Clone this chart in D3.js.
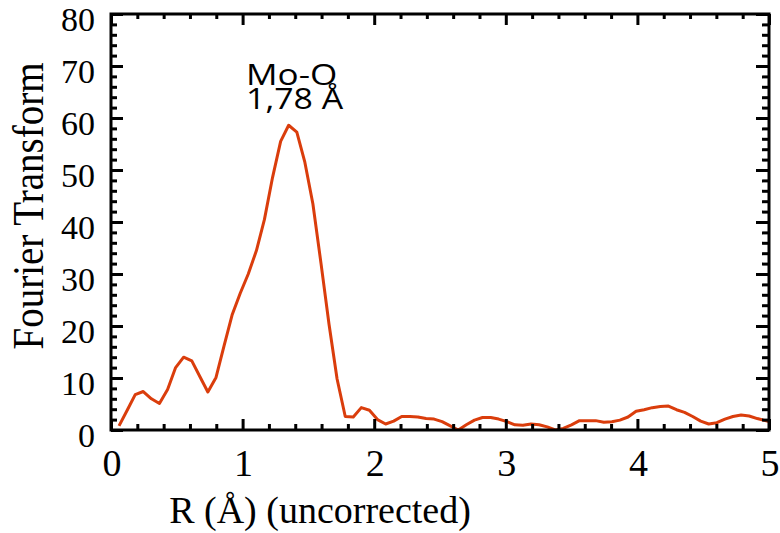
<!DOCTYPE html>
<html>
<head>
<meta charset="utf-8">
<script src="https://cdn.jsdelivr.net/npm/d3@7"></script>
<style>
  html, body { margin: 0; padding: 0; background: #fff; }
  svg { display: block; }
</style>
</head>
<body>
<svg id="chart" width="780" height="533"></svg>
<script>
// Fourier-transform magnitude of the Mo K-edge EXAFS, R space (uncorrected)
const rValues = [
  0.061, 0.123, 0.184, 0.245, 0.307, 0.368, 0.430, 0.491, 0.552, 0.614,
  0.675, 0.736, 0.798, 0.859, 0.920, 0.982, 1.043, 1.105, 1.166, 1.227,
  1.289, 1.350, 1.412, 1.473, 1.534, 1.596, 1.657, 1.718, 1.780, 1.841,
  1.902, 1.964, 2.025, 2.087, 2.148, 2.209, 2.271, 2.332, 2.394, 2.455,
  2.516, 2.578, 2.639, 2.700, 2.762, 2.823, 2.885, 2.946, 3.008, 3.069,
  3.130, 3.192, 3.253, 3.315, 3.376, 3.437, 3.499, 3.560, 3.622, 3.683,
  3.745, 3.806, 3.867, 3.929, 3.990, 4.051, 4.113, 4.174, 4.236, 4.297,
  4.358, 4.420, 4.481, 4.542, 4.604, 4.665, 4.726, 4.788, 4.849, 4.911,
  4.972, 5.000
];
const ftValues = [
  0.8, 3.8, 6.8, 7.4, 6.0, 5.1, 7.8, 12.0, 14.0, 13.3,
  10.3, 7.3, 10.1, 16.2, 22.1, 26.3, 30.0, 34.5, 40.5, 48.5,
  55.5, 58.6, 57.3, 51.5, 43.5, 32.0, 20.3, 9.8, 2.6, 2.5,
  4.3, 3.8, 2.0, 1.15, 1.7, 2.6, 2.6, 2.5, 2.2, 2.1,
  1.6, 0.8, 0.0, 1.0, 1.9, 2.4, 2.4, 2.1, 1.6, 1.0,
  0.9, 1.15, 1.0, 0.6, 0.0, 0.3, 1.0, 1.8, 1.8, 1.8,
  1.5, 1.6, 1.9, 2.5, 3.6, 3.9, 4.3, 4.5, 4.6, 3.9,
  3.4, 2.6, 1.7, 1.15, 1.4, 2.1, 2.6, 2.9, 2.7, 2.2,
  1.8, 1.6
];
const xTickValues = [0, 1, 2, 3, 4, 5];
const yTickValues = [0, 10, 20, 30, 40, 50, 60, 70, 80];
const peakLabel = ["Mo-O", "1,78 Å"];
const xTitle = "R (Å) (uncorrected)";
const yTitle = "Fourier Transform";

const svg = d3.select("#chart");
const plotLeft = 111, plotRight = 769, plotTop = 14, plotBottom = 430;

const x = d3.scaleLinear().domain([0, 5]).range([plotLeft, plotRight]);
const y = d3.scaleLinear().domain([0, 80]).range([plotBottom, plotTop]);

const serif = "'Liberation Serif', 'Times New Roman', serif";
const lineColor = "#da3d0c";

// minor tick positions
const xMinor = d3.range(0, 5.0001, 0.2).filter(v => Math.abs(v - Math.round(v)) > 1e-6);
const yMinor = d3.range(0, 80.0001, 2).filter(v => v % 10 !== 0);

// clip region for the trace
svg.append("clipPath").attr("id", "plotClip")
  .append("rect").attr("x", plotLeft).attr("y", plotTop)
  .attr("width", plotRight - plotLeft).attr("height", plotBottom - plotTop);

// data trace
const line = d3.line().x((d, i) => x(rValues[i])).y(d => y(d));
svg.append("path")
  .datum(ftValues)
  .attr("clip-path", "url(#plotClip)")
  .attr("fill", "none")
  .attr("stroke", lineColor)
  .attr("stroke-width", 3)
  .attr("stroke-linejoin", "round")
  .attr("d", line);

// frame axes with inward ticks on all four sides
function styleAxis(g) {
  g.select(".domain").remove();
  g.selectAll("line").attr("stroke", "#000").attr("stroke-width", 3);
}

// bottom
svg.append("g").attr("transform", `translate(0,${plotBottom})`)
  .call(d3.axisBottom(x).tickValues(xTickValues).tickSizeInner(-11).tickSizeOuter(0).tickFormat(""))
  .call(styleAxis);
svg.append("g").attr("transform", `translate(0,${plotBottom})`)
  .call(d3.axisBottom(x).tickValues(xMinor).tickSizeInner(-6).tickSizeOuter(0).tickFormat(""))
  .call(styleAxis);
// top
svg.append("g").attr("transform", `translate(0,${plotTop})`)
  .call(d3.axisTop(x).tickValues(xTickValues).tickSizeInner(-11).tickSizeOuter(0).tickFormat(""))
  .call(styleAxis);
svg.append("g").attr("transform", `translate(0,${plotTop})`)
  .call(d3.axisTop(x).tickValues(xMinor).tickSizeInner(-5).tickSizeOuter(0).tickFormat(""))
  .call(styleAxis);
// left
svg.append("g").attr("transform", `translate(${plotLeft},0)`)
  .call(d3.axisLeft(y).tickValues(yTickValues).tickSizeInner(-12).tickSizeOuter(0).tickFormat(""))
  .call(styleAxis);
svg.append("g").attr("transform", `translate(${plotLeft},0)`)
  .call(d3.axisLeft(y).tickValues(yMinor).tickSizeInner(-6).tickSizeOuter(0).tickFormat(""))
  .call(styleAxis);
// right
svg.append("g").attr("transform", `translate(${plotRight},0)`)
  .call(d3.axisRight(y).tickValues(yTickValues).tickSizeInner(-13).tickSizeOuter(0).tickFormat(""))
  .call(styleAxis);
svg.append("g").attr("transform", `translate(${plotRight},0)`)
  .call(d3.axisRight(y).tickValues(yMinor).tickSizeInner(-7).tickSizeOuter(0).tickFormat(""))
  .call(styleAxis);

// frame rectangle
svg.append("rect")
  .attr("x", plotLeft).attr("y", plotTop)
  .attr("width", plotRight - plotLeft).attr("height", plotBottom - plotTop)
  .attr("fill", "none").attr("stroke", "#000").attr("stroke-width", 3);

// tick labels
svg.append("g").selectAll("text").data(xTickValues).join("text")
  .attr("x", d => x(d) + 1).attr("y", 476)
  .attr("text-anchor", "middle")
  .attr("font-family", serif).attr("font-size", 38)
  .text(d => d);

svg.append("g").selectAll("text").data(yTickValues).join("text")
  .attr("x", 95).attr("y", d => y(d) + 17)
  .attr("text-anchor", "end")
  .attr("font-family", serif).attr("font-size", 34)
  .text(d => d);

// axis titles
svg.append("text")
  .attr("x", 320).attr("y", 523)
  .attr("text-anchor", "middle")
  .attr("font-family", serif).attr("font-size", 38)
  .text(xTitle);

svg.append("text")
  .attr("transform", "translate(43,206) rotate(-90) scale(1,1.12)")
  .attr("text-anchor", "middle")
  .attr("font-family", serif).attr("font-size", 39)
  .text(yTitle);

// peak annotation
const ann = svg.append("g").attr("font-family", "'Open Sans', 'Noto Sans', sans-serif").attr("font-size", 30);
ann.append("text").attr("transform", "translate(246,85) scale(1.17,1)").text(peakLabel[0]);
ann.append("text").attr("transform", "translate(246,109) scale(1.13,1)").text(peakLabel[1]);
</script>
</body>
</html>
